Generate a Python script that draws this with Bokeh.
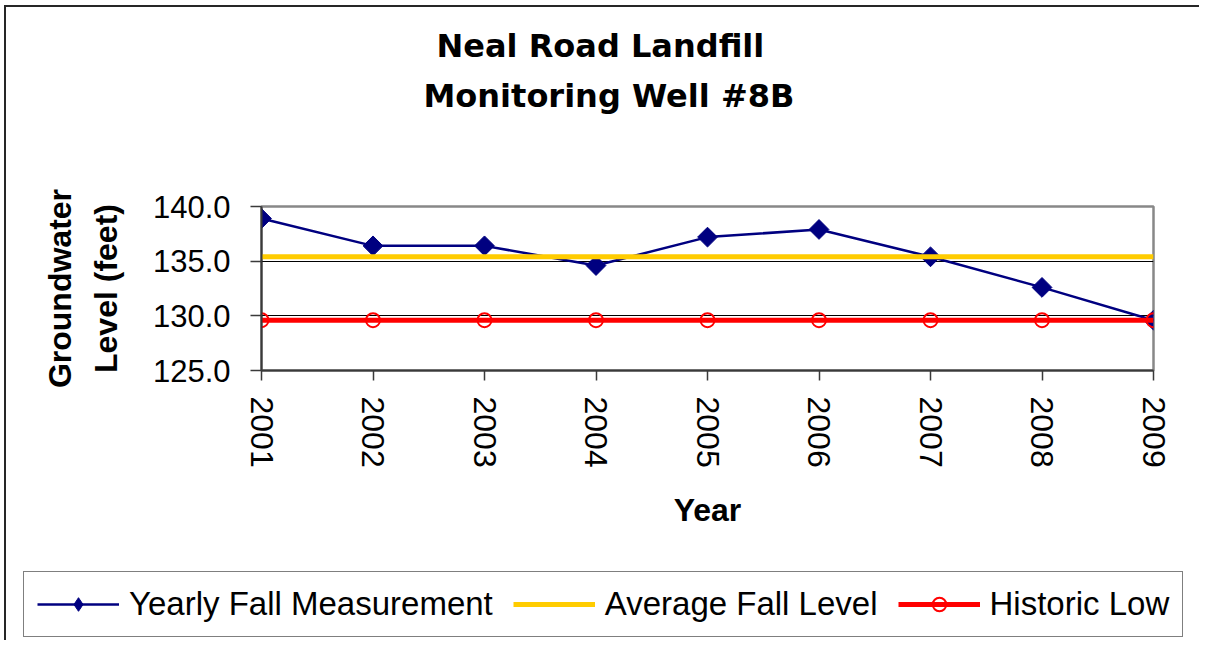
import math
from bokeh.plotting import figure
from bokeh.layouts import column
from bokeh.models import (Legend, LegendItem, FixedTicker, Title,
                          NumeralTickFormatter, Range1d)
from bokeh.embed import file_html
from bokeh.resources import INLINE

# ---- data ----
years = [2001, 2002, 2003, 2004, 2005, 2006, 2007, 2008, 2009]
fall_level = [138.9, 136.4, 136.4, 134.6, 137.2, 137.9, 135.4, 132.6, 129.6]
average_level = [135.4, 135.4, 135.4, 135.4, 135.4, 135.4, 135.4, 135.4, 135.4]
historic_low = [129.6, 129.6, 129.6, 129.6, 129.6, 129.6, 129.6, 129.6, 129.6]
y_ticks = [125, 130, 135, 140]
series_names = ["Yearly Fall Measurement", "Average Fall Level", "Historic Low"]
title_lines = ["Neal Road Landfill", "Monitoring Well #8B"]
y_label_lines = ["Groundwater", "Level (feet)"]
x_label = "Year"

FONT = "Liberation Sans"
NAVY, GOLD, RED = "#000080", "#FFCC00", "#FF0000"


def draw_series(fig, diamond_marker, diamond_angle):
    r1 = fig.line(years, fall_level, line_color=NAVY, line_width=2.5)
    r1m = fig.scatter(years, fall_level, marker=diamond_marker,
                      angle=diamond_angle, size=14,
                      fill_color=NAVY, line_color=NAVY)
    r2 = fig.line(years, average_level, line_color=GOLD, line_width=5)
    r3 = fig.line(years, historic_low, line_color=RED, line_width=5)
    r3m = fig.scatter(years, historic_low, marker="circle", size=14,
                      fill_color=None, line_color=RED, line_width=2)
    return [[r1, r1m], [r2], [r3, r3m]]


# ---------------- main chart ----------------
p = figure(
    output_backend="svg",
    toolbar_location=None,
    frame_width=892,
    frame_height=164,
    min_border_left=255,
    min_border_right=46,
    min_border_top=199,
    min_border_bottom=190,
    x_range=Range1d(years[0], years[-1]),
    y_range=Range1d(y_ticks[0], y_ticks[-1]),
    background_fill_color="white",
    border_fill_color="white",
)

p.outline_line_color = "#888888"
p.outline_line_width = 2.5

p.xaxis.ticker = FixedTicker(ticks=years)
p.yaxis.ticker = FixedTicker(ticks=y_ticks)
p.yaxis.formatter = NumeralTickFormatter(format="0.0")
for ax in (p.xaxis[0], p.yaxis[0]):
    ax.axis_line_color = "#3a3a3a"
    ax.axis_line_width = 2
    ax.major_tick_line_color = "#3a3a3a"
    ax.major_tick_line_width = 1.5
    ax.major_tick_in = 0
    ax.minor_tick_line_color = None
    ax.major_label_text_font = FONT
    ax.major_label_text_color = "black"
p.yaxis.major_tick_out = 11
p.yaxis.major_label_standoff = 20
p.yaxis.major_label_text_font_size = "31px"
p.xaxis.major_tick_out = 10
p.xaxis.major_label_standoff = 16
p.xaxis.major_label_text_font_size = "32px"
p.xaxis.major_label_orientation = -math.pi / 2

p.yaxis.axis_label = "\n".join(y_label_lines)
p.yaxis.axis_label_text_font = FONT
p.yaxis.axis_label_text_font_style = "bold"
p.yaxis.axis_label_text_font_size = "32px"
p.yaxis.axis_label_text_color = "black"
p.yaxis.axis_label_text_line_height = 1.28
p.yaxis.axis_label_standoff = 26

p.xgrid.grid_line_color = None
p.ygrid.ticker = FixedTicker(ticks=y_ticks[1:-1])
p.ygrid.grid_line_color = "black"
p.ygrid.grid_line_width = 1

draw_series(p, "square", math.pi / 4)

# chart title: two lines stacked above the plot area
p.title.text = title_lines[0]
p.title.align = "left"
p.title.offset = 175
p.title.standoff = 10
p.title.text_font = "DejaVu Sans"
p.title.text_font_style = "bold"
p.title.text_font_size = "32px"
p.title.text_color = "black"
p.add_layout(Title(text=" ", standoff=47, text_font_size="32px",
                   text_font="DejaVu Sans"), "above")
p.add_layout(Title(text=title_lines[1], align="left", offset=162, standoff=10,
                   text_font="DejaVu Sans", text_font_style="bold",
                   text_font_size="32px", text_color="black"), "above")

p.add_layout(Title(text=x_label, align="center", standoff=38, text_font=FONT,
                   text_font_style="bold", text_font_size="32px",
                   text_color="black"), "below")

# ---------------- legend strip ----------------
leg = figure(
    output_backend="svg",
    toolbar_location=None,
    frame_width=1193,
    frame_height=80,
    min_border=0,
    x_axis_location=None,
    y_axis_location=None,
    x_range=Range1d(0, 1),
    y_range=Range1d(0, 1),
    background_fill_color="white",
    border_fill_color="white",
    outline_line_color=None,
)
leg.grid.visible = False
leg_renderers = draw_series(leg, "diamond", 0)

legend = Legend(
    items=[LegendItem(label=name, renderers=rs)
           for name, rs in zip(series_names, leg_renderers)],
    orientation="horizontal",
    location=(17, 3),
    glyph_width=82,
    glyph_height=34,
    label_standoff=10,
    spacing=20,
    padding=13,
    margin=0,
    border_line_color="black",
    border_line_width=1,
    background_fill_color="white",
    background_fill_alpha=1.0,
    label_text_font=FONT,
    label_text_font_size="33px",
    label_text_color="black",
)
leg.add_layout(legend)

layout = column(p, leg, spacing=0)
layout.styles = {"margin-left": "4px", "margin-top": "5px",
                 "margin-bottom": "-30px", "margin-right": "-30px",
                 "border-left": "2px solid #262626",
                 "border-top": "2px solid #262626"}

open("out.html", "w").write(file_html(layout, INLINE))
